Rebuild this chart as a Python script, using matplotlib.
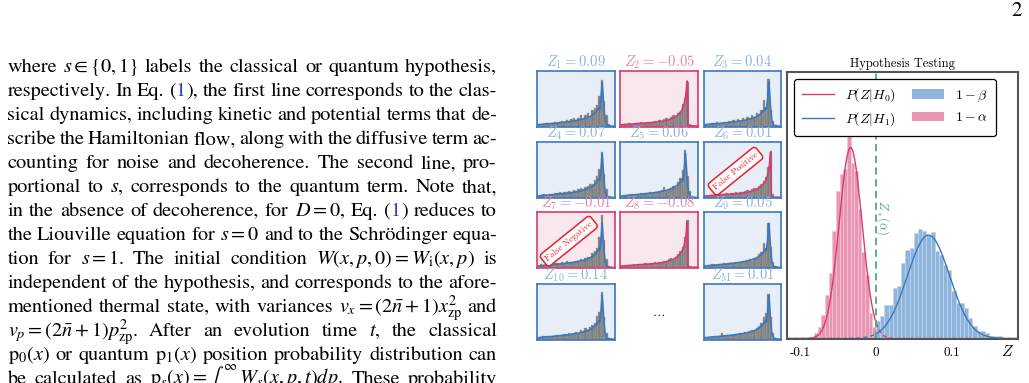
import re

import numpy as np
import matplotlib
matplotlib.use("Agg")
import matplotlib.pyplot as plt
from matplotlib.lines import Line2D
from matplotlib.patches import Patch

plt.rcParams["axes.unicode_minus"] = False

W, H, DPI = 1029, 383, 100

# ---------------- page text (one entry per printed line, [..] = link colour)
body_lines = [
    r"where $s\in\{0,1\}$ labels the classical or quantum hypothesis,",
    r"respectively. In Eq. ([1]), the first line corresponds to the clas-",
    r"sical dynamics, including kinetic and potential terms that de-",
    r"scribe the Hamiltonian flow, along with the diffusive term ac-",
    r"counting for noise and decoherence. The second line, pro-",
    r"portional to $s$, corresponds to the quantum term. Note that,",
    r"in the absence of decoherence, for $D=0$, Eq. ([1]) reduces to",
    r"the Liouville equation for $s=0$ and to the Schrödinger equa-",
    r"tion for $s=1$. The initial condition $W(x,p,0)=W_\mathrm{i}(x,p)$ is",
    r"independent of the hypothesis, and corresponds to the afore-",
    r"mentioned thermal state, with variances $v_x=(2\bar{n}+1)x_\mathrm{zp}^2$ and",
    r"$v_p=(2\bar{n}+1)p_\mathrm{zp}^2$. After an evolution time $t$, the classical",
    r"$\mathrm{p}_0(x)$ or quantum $\mathrm{p}_1(x)$ position probability distribution can",
    r"be calculated as $\mathrm{p}_s(x)=\int_{-\infty}^{\infty}W_s(x,p,t)dp$. These probability",
]
page_number = "2"

# ---------------- small panels
panel_titles = [r"$Z_1 = 0.09$", r"$Z_2 = -0.05$", r"$Z_3 = 0.04$",
                r"$Z_4 = 0.07$", r"$Z_5 = 0.06$", r"$Z_6 = 0.01$",
                r"$Z_7 = -0.01$", r"$Z_8 = -0.08$", r"$Z_9 = 0.05$",
                r"$Z_{10} = 0.14$", r"$Z_\mathrm{M} = 0.01$"]
panel_z = [0.09, -0.05, 0.04, 0.07, 0.06, 0.01, -0.01, -0.08, 0.05, 0.14, 0.01]
# which theory curve is drawn: "q" quantum p1, "c" classical p0
panel_truth = ["q", "c", "q", "q", "q", "c", "q", "c", "q", "q", "q"]
panel_stamps = {5: "False Positive", 6: "False Negative"}

# histogram bar heights (fraction of panel height), 32 bins each
panel_hist = [
    [0.02, 0.03, 0.05, 0.06, 0.07, 0.05, 0.06, 0.08, 0.06, 0.09, 0.10, 0.08, 0.12, 0.10, 0.13, 0.15,
     0.12, 0.16, 0.20, 0.14, 0.20, 0.24, 0.18, 0.30, 0.34, 0.38, 0.55, 0.83, 0.46, 0.20, 0.05, 0.01],
    [0.03, 0.05, 0.04, 0.06, 0.05, 0.04, 0.07, 0.06, 0.08, 0.06, 0.07, 0.09, 0.07, 0.08, 0.10, 0.09,
     0.12, 0.10, 0.13, 0.15, 0.12, 0.18, 0.20, 0.17, 0.25, 0.27, 0.40, 0.52, 0.80, 0.05, 0.02, 0.00],
    [0.02, 0.04, 0.05, 0.07, 0.06, 0.08, 0.05, 0.07, 0.09, 0.07, 0.10, 0.08, 0.11, 0.09, 0.14, 0.10,
     0.16, 0.12, 0.18, 0.15, 0.20, 0.17, 0.24, 0.22, 0.30, 0.48, 0.36, 0.85, 0.30, 0.10, 0.03, 0.01],
    [0.03, 0.05, 0.06, 0.05, 0.04, 0.07, 0.06, 0.09, 0.08, 0.10, 0.08, 0.11, 0.10, 0.12, 0.11, 0.14,
     0.13, 0.15, 0.17, 0.16, 0.20, 0.22, 0.25, 0.24, 0.32, 0.40, 0.52, 0.82, 0.42, 0.15, 0.04, 0.01],
    [0.02, 0.03, 0.05, 0.04, 0.06, 0.05, 0.07, 0.06, 0.08, 0.07, 0.09, 0.08, 0.10, 0.09, 0.11, 0.10,
     0.12, 0.14, 0.20, 0.13, 0.15, 0.18, 0.22, 0.20, 0.28, 0.35, 0.50, 0.86, 0.40, 0.12, 0.03, 0.01],
    [0.03, 0.04, 0.05, 0.05, 0.06, 0.04, 0.06, 0.07, 0.06, 0.08, 0.07, 0.09, 0.08, 0.10, 0.09, 0.11,
     0.10, 0.12, 0.14, 0.13, 0.16, 0.18, 0.17, 0.22, 0.25, 0.30, 0.38, 0.55, 0.85, 0.06, 0.02, 0.00],
    [0.04, 0.06, 0.05, 0.07, 0.06, 0.08, 0.07, 0.09, 0.08, 0.07, 0.10, 0.09, 0.12, 0.08, 0.11, 0.10,
     0.13, 0.12, 0.15, 0.14, 0.18, 0.20, 0.19, 0.26, 0.30, 0.36, 0.55, 0.95, 0.50, 0.15, 0.04, 0.01],
    [0.03, 0.04, 0.03, 0.05, 0.05, 0.06, 0.05, 0.07, 0.06, 0.06, 0.08, 0.07, 0.09, 0.08, 0.10, 0.09,
     0.11, 0.10, 0.13, 0.12, 0.15, 0.17, 0.16, 0.20, 0.24, 0.30, 0.38, 0.55, 0.86, 0.04, 0.01, 0.00],
    [0.02, 0.03, 0.04, 0.06, 0.05, 0.05, 0.07, 0.06, 0.08, 0.06, 0.08, 0.09, 0.08, 0.10, 0.09, 0.11,
     0.12, 0.10, 0.14, 0.15, 0.13, 0.18, 0.20, 0.24, 0.28, 0.45, 0.36, 0.80, 0.38, 0.10, 0.03, 0.01],
    [0.03, 0.05, 0.06, 0.05, 0.07, 0.04, 0.06, 0.07, 0.08, 0.06, 0.09, 0.10, 0.08, 0.12, 0.10, 0.11,
     0.14, 0.12, 0.17, 0.15, 0.20, 0.18, 0.23, 0.26, 0.30, 0.42, 0.50, 0.85, 0.40, 0.12, 0.03, 0.01],
    [0.02, 0.03, 0.05, 0.04, 0.06, 0.05, 0.07, 0.12, 0.06, 0.08, 0.07, 0.09, 0.08, 0.10, 0.09, 0.11,
     0.10, 0.13, 0.12, 0.15, 0.18, 0.16, 0.21, 0.24, 0.30, 0.40, 0.48, 0.82, 0.40, 0.12, 0.03, 0.01],
]
panel_bin_lo, panel_bin_hi = 0.01, 0.97

# theory curves p1 (quantum) and p0 (classical), panel units
quantum_x = [0.0, 0.1, 0.2, 0.3, 0.4, 0.5, 0.6, 0.68, 0.74, 0.78, 0.795, 0.81, 0.825, 0.84,
             0.85, 0.865, 0.88, 0.9, 0.93, 1.0]
quantum_y = [0.03, 0.045, 0.055, 0.07, 0.085, 0.105, 0.135, 0.175, 0.23, 0.30, 0.34, 0.31, 0.50,
             0.80, 0.62, 0.30, 0.10, 0.03, 0.01, 0.005]
classical_x = [0.0, 0.1, 0.2, 0.3, 0.4, 0.5, 0.6, 0.68, 0.74, 0.79, 0.82, 0.84, 0.855, 0.863,
               0.868, 0.872, 0.9, 1.0]
classical_y = [0.03, 0.04, 0.05, 0.06, 0.07, 0.085, 0.11, 0.15, 0.20, 0.28, 0.38, 0.50, 0.68,
               0.82, 0.45, 0.02, 0.01, 0.01]

# ---------------- hypothesis-testing histograms (density)
h0_density = [0.7, 1.6, 3.3, 6.1, 9.1, 15.0, 20.5, 22.9, 23.6, 28.7, 24.5, 23.3, 18.0, 12.1,
              8.9, 3.5, 1.6]
h0_bin_start, h0_bin_width = -0.0816, 0.0048
h1_density = [2.4, 3.1, 4.6, 4.6, 7.0, 7.3, 10.5, 12.3, 12.6, 14.7, 15.3, 15.0, 14.4, 14.8,
              12.2, 11.6, 10.2, 9.5, 6.6, 4.9, 4.9, 4.2, 2.8, 1.8, 1.1, 1.1, 0.7, 0.3, 0.3,
              0.3, 0.1]
h1_bin_start, h1_bin_width = 0.0, 0.0055
h0_mu, h0_sigma = -0.0335, 0.0150
h1_mu, h1_sigma = 0.0688, 0.0277
z_star = 0.0

# ---------------- colours
BLUE, PINK = "#3b78bd", "#d83b70"
BLUE_BG, PINK_BG = "#e8eef7", "#f9e7ee"
BLUE_TXT, PINK_TXT = "#8db0da", "#e385a8"
TEAL = "#4fa68f"
STAMP = "#e8202a"
LINK = "#1f3fd0"

fig = plt.figure(figsize=(W / DPI, H / DPI), dpi=DPI)
page = fig.add_axes([0, 0, 1, 1])
page.set_xlim(0, W)
page.set_ylim(H, 0)
page.axis("off")
renderer = fig.canvas.get_renderer()


def px_axes(left, top, width, height):
    return fig.add_axes([left / W, (H - top - height) / H, width / W, height / H])


# ---------------- justified body text
TXT = dict(fontfamily="STIXGeneral", math_fontfamily="stix", fontsize=14.6, va="baseline")
x0, x1 = 7.5, 497.0
base0, lead = 71.7, 24.05
for i, line in enumerate(body_lines):
    y = base0 + i * lead
    tokens = []
    for word in line.split(" "):
        parts = re.split(r"\[(.*?)\]", word)
        segs = [(p, LINK if j % 2 else "black") for j, p in enumerate(parts) if p]
        tokens.append(segs)
    placed, total = [], 0.0
    for segs in tokens:
        row = []
        for s, c in segs:
            t = page.text(0, y, s, color=c, **TXT)
            w = t.get_window_extent(renderer).width
            row.append((t, w))
            total += w
        placed.append(row)
    gap = (x1 - x0 - total) / max(len(tokens) - 1, 1)
    x = x0
    for row in placed:
        for t, w in row:
            t.set_x(x)
            x += w
        x += gap

page.text(1017, 11, page_number, fontfamily="STIXGeneral", fontsize=15, ha="center", va="center")

# ---------------- grid of sampled distributions
col_left = [537.0, 620.3, 703.7]
row_top = [71.0, 142.3, 212.3, 284.0]
panel_w, panel_h = 77.5, 55.5
slots = [(0, 0), (0, 1), (0, 2), (1, 0), (1, 1), (1, 2), (2, 0), (2, 1), (2, 2), (3, 0), (3, 2)]
edges = np.linspace(panel_bin_lo, panel_bin_hi, len(panel_hist[0]) + 1)

for k, (row, col) in enumerate(slots):
    ax = px_axes(col_left[col], row_top[row], panel_w, panel_h)
    says_quantum = panel_z[k] > z_star
    ax.set_facecolor(BLUE_BG if says_quantum else PINK_BG)
    for sp in ax.spines.values():
        sp.set_color(BLUE if says_quantum else PINK)
        sp.set_linewidth(1.2)
    ax.bar(edges[:-1], panel_hist[k], width=np.diff(edges), align="edge",
           color="#7d7d7d", edgecolor="#a9a9a9", linewidth=0.3)
    if panel_truth[k] == "q":
        ax.plot(quantum_x, quantum_y, color=BLUE, lw=1.2)
    else:
        ax.plot(classical_x, classical_y, color=PINK, lw=1.2)
    ax.set_xlim(0, 1)
    ax.set_ylim(0, 1)
    ax.set_xticks([])
    ax.set_yticks([])
    ax.text(0.5, 1.078, panel_titles[k], transform=ax.transAxes, ha="center", va="baseline",
            color=BLUE_TXT if says_quantum else PINK_TXT, fontsize=10.5, math_fontfamily="cm")
    if k in panel_stamps:
        ax.text(0.41, 0.48, panel_stamps[k], transform=ax.transAxes, rotation=39,
                rotation_mode="anchor", ha="center", va="center", color=STAMP,
                fontsize=6.5, fontfamily="cmr10",
                bbox=dict(boxstyle="round,pad=0.35", fc="white", ec=STAMP, lw=1.1))

page.text(659, 313, r"$\ldots$", math_fontfamily="cm", fontsize=9, ha="center", va="center")

# ---------------- hypothesis testing
big = px_axes(787, 71.5, 231.5, 267)
big.bar(h0_bin_start + h0_bin_width * np.arange(len(h0_density)), h0_density,
        width=h0_bin_width, align="edge", color="#e896b3", edgecolor="#f2c3d3", linewidth=0.5)
big.bar(h1_bin_start + h1_bin_width * np.arange(len(h1_density)), h1_density,
        width=h1_bin_width, align="edge", color="#8fb5dc", edgecolor="#c0d5eb", linewidth=0.5)

zl, zr = -0.117, 0.187
zz = np.linspace(zl, zr, 800)
pdf0 = np.exp(-0.5 * ((zz - h0_mu) / h0_sigma) ** 2) / (h0_sigma * np.sqrt(2 * np.pi))
pdf1 = np.exp(-0.5 * ((zz - h1_mu) / h1_sigma) ** 2) / (h1_sigma * np.sqrt(2 * np.pi))
left, right = zz <= z_star, zz >= z_star
big.plot(zz[left], pdf0[left], color=PINK, lw=1.0)
big.plot(zz[right], pdf0[right], color=PINK, lw=1.0, ls=(0, (3, 2)))
big.plot(zz[right], pdf1[right], color=BLUE, lw=1.0)
big.plot(zz[left], pdf1[left], color=BLUE, lw=1.0, ls=(0, (3, 2)))
big.axvline(z_star, color=TEAL, lw=1.3, ls=(0, (4, 2.5)))
big.text(z_star + 0.0085, 16.8, r"$Z_*(\alpha)$", rotation=-90, ha="center", va="center",
         color=TEAL, fontsize=9, math_fontfamily="cm")

big.set_xlim(zl, zr)
big.set_ylim(0, 37.2)
big.set_yticks([])
big.set_xticks([-0.1, 0, 0.1])
big.set_xticklabels(["-0.1", "0", "0.1"], fontfamily="cmr10", fontsize=9.5)
big.tick_params(axis="x", length=0, pad=6)
for sp in big.spines.values():
    sp.set_color("#555555")
    sp.set_linewidth(1.5)
big.set_title("Hypothesis Testing", fontfamily="cmr10", fontsize=9, pad=3)
page.text(1008, 352, r"$Z$", math_fontfamily="cm", fontsize=11, ha="center", va="center")

handles = [Line2D([], [], color=PINK, lw=1.0), Line2D([], [], color=BLUE, lw=1.0),
           Patch(facecolor="#8fb5dc"), Patch(facecolor="#e896b3")]
labels = [r"$P(Z|H_0)$", r"$P(Z|H_1)$", r"$1-\beta$", r"$1-\alpha$"]
leg = big.legend(handles, labels, ncol=2, loc="upper left", bbox_to_anchor=(0.03, 0.972),
                 borderaxespad=0, frameon=True, fancybox=True, framealpha=1,
                 edgecolor="black", handlelength=2.3, columnspacing=1.2, labelspacing=0.45,
                 borderpad=0.55, prop=dict(math_fontfamily="cm", size=10))
leg.get_frame().set_linewidth(0.9)

fig.savefig("out.png", dpi=DPI)
